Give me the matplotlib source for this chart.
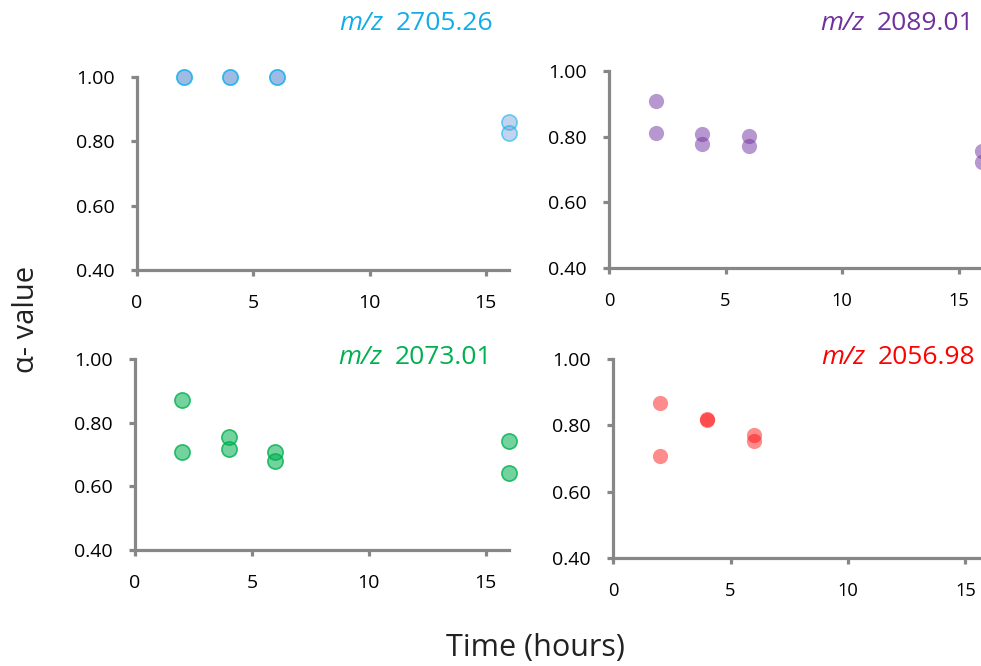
import matplotlib
matplotlib.use("Agg")
import matplotlib.pyplot as plt
import numpy as np

plt.rcParams['font.family'] = ['Open Sans', 'DejaVu Sans']

# sampling times and two replicate alpha values per ion
hours = [2, 4, 6, 16]
mz_labels = ["2705.26", "2089.01", "2073.01", "2056.98"]
rep_a = [
    [1.00, 1.00, 1.00, 0.859],
    [0.909, 0.807, 0.803, 0.756],
    [0.870, 0.754, 0.707, 0.741],
    [0.867, 0.820, 0.770, np.nan],
]
rep_b = [
    [1.00, 1.00, 1.00, 0.827],
    [0.812, 0.777, 0.773, 0.722],
    [0.708, 0.717, 0.681, 0.643],
    [0.709, 0.817, 0.753, np.nan],
]
y_ticks = [0.40, 0.60, 0.80, 1.00]
x_ticks = [0, 5, 10, 15]

text_colors = ['#12ADE8', '#7030A0', '#00B050', '#FF0000']
fill_colors = ['#6F9AD6', '#7030A0', '#00B050', '#FF0000']
fill_alpha = [0.42, 0.5, 0.55, 0.45]
edge_colors = [(0.0, 0.69, 0.94, 0.55), 'none', (0.0, 0.69, 0.31, 0.8), 'none']

W, H = 981, 666
# axes boxes in pixels: x of 0, x of 16, y of 1.00, y of 0.40
boxes = [
    (137, 509, 77, 270),
    (609, 982, 71, 268),
    (135, 509, 359, 550),
    (613, 989, 359, 558),
]
title_pos = [(493, 23), (974, 23), (492, 357), (975, 357)]
xtick_size = [14, 13.2, 14, 13.2]

spine_col = '#878787'

fig = plt.figure(figsize=(W / 100, H / 100), dpi=100)

for i in range(4):
    x0, x1, ytop, ybot = boxes[i]
    ax = fig.add_axes([x0 / W, 1 - ybot / H, (x1 - x0) / W, (ybot - ytop) / H])
    ax.set_xlim(0, 16)
    ax.set_ylim(0.40, 1.00)
    face = matplotlib.colors.to_rgba(fill_colors[i], fill_alpha[i])
    for rep in (rep_a[i], rep_b[i]):
        ax.scatter(hours, rep, s=120, facecolors=[face], edgecolors=[edge_colors[i]],
                   linewidths=1.2, clip_on=False, zorder=3)
    for side in ('top', 'right'):
        ax.spines[side].set_visible(False)
    for side in ('left', 'bottom'):
        ax.spines[side].set_color(spine_col)
        ax.spines[side].set_linewidth(2.3)
    ax.set_xticks(x_ticks)
    ax.set_yticks(y_ticks)
    ax.set_yticklabels(["%.2f" % v for v in y_ticks])
    ax.tick_params(axis='both', direction='out', length=4, width=2.3, color=spine_col)
    ax.tick_params(axis='y', labelsize=14, pad=12)
    ax.tick_params(axis='x', labelsize=xtick_size[i], pad=13)

    # "m/z" in italics just left of the mass value
    tx, ty = title_pos[i]
    num = fig.text(tx / W, 1 - ty / H, mz_labels[i], ha='right', va='center',
                   fontsize=19, color=text_colors[i])
    ax.annotate("m/z", xy=(0, 0.5), xycoords=num, xytext=(-9, 0),
                textcoords='offset points', ha='right', va='center',
                fontsize=19, color=text_colors[i], style='italic',
                annotation_clip=False)

fig.text(27 / W, 1 - 319 / H, "α- value", rotation=90, ha='center', va='center',
         fontsize=21, color='#222222')
fig.text(535 / W, 1 - 648 / H, "Time (hours)", ha='center', va='center',
         fontsize=22, color='#222222')

fig.savefig("out.png", dpi=100)
